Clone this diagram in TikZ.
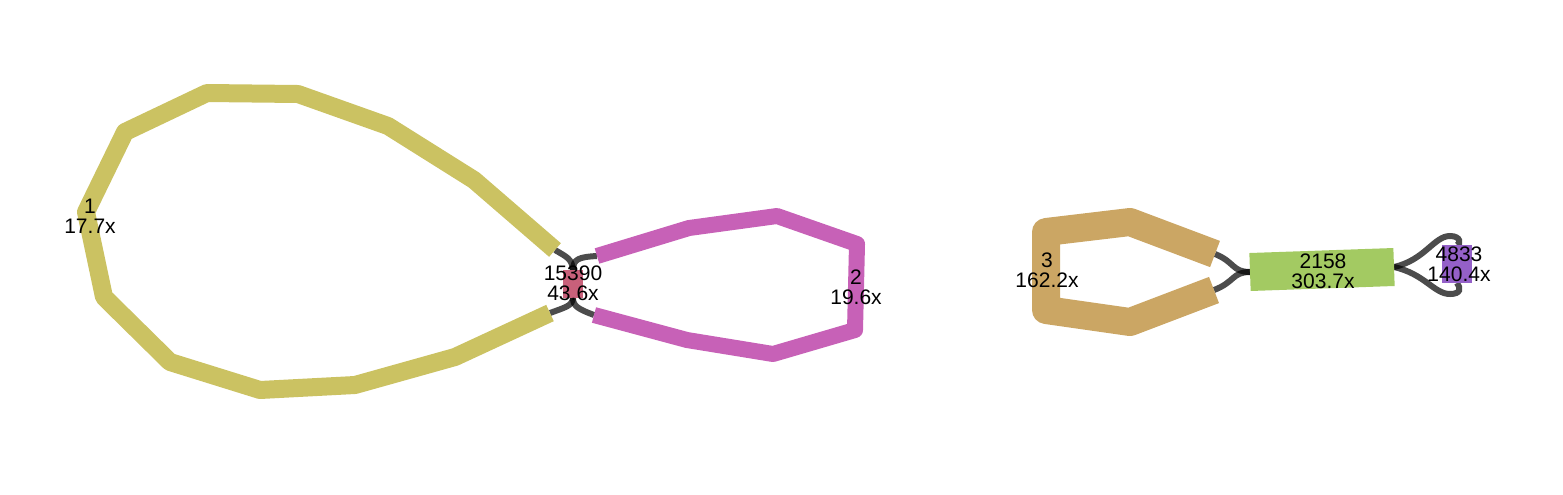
\documentclass[tikz,border=0pt]{standalone}
\usepackage{fontspec}
\setmainfont{Liberation Sans}
\definecolor{olivec}{HTML}{CBC262}
\definecolor{orchidc}{HTML}{C761B7}
\definecolor{tanc}{HTML}{CBA664}
\definecolor{limec}{HTML}{A3CA62}
\definecolor{violetc}{HTML}{9460C8}
\definecolor{rosec}{HTML}{C8607A}

\begin{document}
\begin{tikzpicture}[x=0.5pt, y=-0.5pt,
	contig/.style = {line width=#1, line join=round},
	link/.style = {draw=black, draw opacity=0.7, line width=3pt},
	every node/.style = {align=center, inner sep=0pt,
		font=\fontsize{10.5}{10}\selectfont}]
	\useasboundingbox (0,0) rectangle (1563,494);
	% contig ends
	\coordinate (one-a) at (555,250);
	\coordinate (one-b) at (550,313);
	\coordinate (two-a) at (597,256);
	\coordinate (two-b) at (594,315);
	\coordinate (three-a) at (1215,254);
	\coordinate (three-b) at (1214,290);
	\coordinate (long-a) at (1250,272);
	\coordinate (long-b) at (1394,267);
	\coordinate (short-a) at (1457,245);
	\coordinate (short-b) at (1457,283);
	\coordinate (hub-n) at (573,270);
	\coordinate (hub-s) at (573,298);

	% links
	\draw[link] (one-a) .. controls (567,257) and (572,259) .. (hub-n);
	\draw[link] (two-a) .. controls (579,257) and (573,259) .. (hub-n);
	\draw[link] (one-b) .. controls (566,307) and (572,306) .. (hub-s);
	\draw[link] (two-b) .. controls (578,309) and (573,306) .. (hub-s);
	\draw[link] (three-a) .. controls (1235,262) and (1232,272) .. (long-a);
	\draw[link] (three-b) .. controls (1235,282) and (1232,272) .. (long-a);
	\draw[link] (long-b) .. controls (1425,260) and (1434,236) .. (1450,236)
		.. controls (1461,236) and (1461,244) .. (short-a);
	\draw[link] (long-b) .. controls (1425,274) and (1434,294) .. (1450,294)
		.. controls (1461,294) and (1461,288) .. (short-b);

	% contigs
	\draw[contig=9pt, draw=olivec] (one-a) -- (474,180) -- (388,126)
		-- (298,94) -- (207,93) -- (125,132) -- (86,212) -- (104,297) -- (170,362)
		-- (260,390) -- (355,385) -- (455,357) -- (one-b);
	\draw[contig=8pt, draw=orchidc] (two-a) -- (689,228) -- (777,216)
		-- (857,244) -- (855,330) -- (773,354) -- (687,340) -- (two-b);
	\draw[contig=14pt, draw=tanc] (three-a) -- (1130,222) -- (1046,232)
		-- (1046,310) -- (1130,322) -- (three-b);
	\draw[contig=19pt, draw=limec] (long-a) -- (long-b);
	\draw[contig=15pt, draw=violetc] (short-a) -- (short-b);
	\node[fill=rosec, minimum width=10pt, minimum height=14pt] (hub) at (573,284) {};

	% labels
	\node (one) at (90,216) {1\\17.7x};
	\node (two) at (856,287) {2\\19.6x};
	\node (three) at (1047,270) {3\\162.2x};
	\node (hublabel) at (573,283) {15390\\43.6x};
	\node (longlabel) at (1323,271) {2158\\303.7x};
	\node (shortlabel) at (1459,264) {4833\\140.4x};
\end{tikzpicture}
\end{document}
